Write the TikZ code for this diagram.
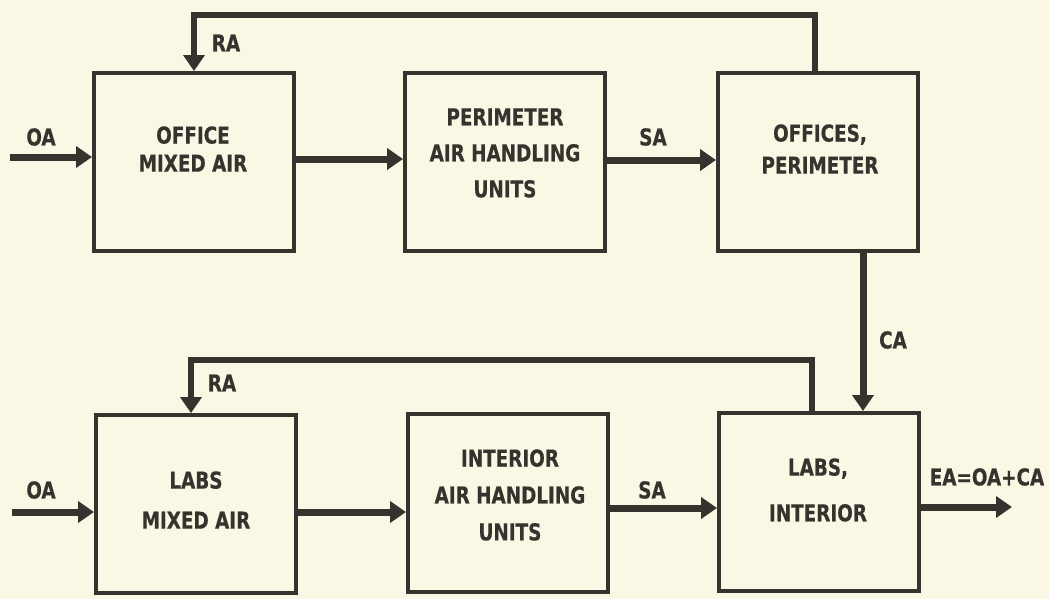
\documentclass[tikz,border=0pt]{standalone}
\usepackage{fontspec}
\usetikzlibrary{arrows.meta,calc}
\newfontfamily\diafont{DejaVu Sans Condensed}[FakeStretch=0.88,BoldFeatures={FakeBold=0.5}]
\definecolor{paper}{RGB}{250,248,228}
\definecolor{ink}{RGB}{56,50,46}

\begin{document}
\begin{tikzpicture}[
  x=0.02cm, y=-0.02cm,
  >={Triangle[length=0.32cm,width=0.42cm]},
  line join=miter,
  box/.style={draw=ink, line width=0.08cm, minimum width=4cm, minimum height=3.56cm, inner sep=0pt},
  txt/.style={text=ink, font=\diafont\bfseries\fontsize{13.2}{16}\selectfont, align=center, inner sep=0pt},
  flow/.style={draw=ink, line width=0.14cm, ->},
  ret/.style={draw=ink, line width=0.11cm, ->}
]
  \useasboundingbox (0,0) rectangle (1049,599);
  \fill[paper] (0,0) rectangle (1049,599);

  % Blocks, office side on top, labs side below
  \node[box] (omix)   at (194,162) {};
  \node[box] (pahu)   at (505,162) {};
  \node[box] (operim) at (818,162) {};
  \node[box] (lmix)   at (196,504) {};
  \node[box] (iahu)   at (508,503) {};
  \node[box] (lint)   at (819,502) {};

  % Block texts
  \node[txt] (omixtxt)   at (193,149) {OFFICE\\MIXED AIR};
  \node[txt] (pahutxt)   at (505,153) {PERIMETER\\[4.5pt]AIR HANDLING\\[4.5pt]UNITS};
  \node[txt] (operimtxt) at (820,149) {OFFICES,\\[2.3pt]PERIMETER};
  \node[txt] (lmixtxt)   at (196,500) {LABS\\[6.8pt]MIXED AIR};
  \node[txt] (iahutxt)   at (510,495) {INTERIOR\\[5pt]AIR HANDLING\\[5pt]UNITS};
  \node[txt] (linttxt)   at (818,490) {LABS,\\[10pt]INTERIOR};

  % Free ends and bends
  \coordinate (oain1) at (10,157);
  \coordinate (oain2) at (12,512);
  \coordinate (sa2)   at (0,508);
  \coordinate (eaout) at (1012,507);
  \coordinate (ret1)  at (815,15);
  \coordinate (ret2)  at (812,360);
  \coordinate (cax)   at (863,0);

  % Office air path
  \draw[flow] (oain1) -- (oain1 -| omix.west);
  \draw[flow] ([yshift=0.06cm]omix.east) -- ([yshift=0.06cm]omix.east -| pahu.west);
  \draw[flow] ([yshift=0.04cm]pahu.east) -- ([yshift=0.04cm]pahu.east -| operim.west);
  \draw[ret] (ret1 |- operim.north) -- (ret1) -| (omix.north);

  % Corridor air to the labs
  \draw[flow] (cax |- operim.south) -- (cax |- lint.north);

  % Labs air path
  \draw[flow] (oain2) -- (oain2 -| lmix.west);
  \draw[flow] (lmix.east |- oain2) -- (iahu.west |- oain2);
  \draw[flow] (iahu.east |- sa2) -- (lint.west |- sa2);
  \draw[flow] (lint.east |- eaout) -- (eaout);
  \draw[ret] (ret2 |- lint.north) -- (ret2) -| ([xshift=-0.1cm]lmix.north);

  % Stream labels
  \node[txt] (oalbl1) at (41,137)  {OA};
  \node[txt] (ralbl1) at (226,43)  {RA};
  \node[txt] (salbl1) at (653,137) {SA};
  \node[txt] (calbl)  at (893,340) {CA};
  \node[txt] (ralbl2) at (222,383) {RA};
  \node[txt] (oalbl2) at (41,490)  {OA};
  \node[txt] (salbl2) at (652,490) {SA};
  \node[txt] (ealbl)  at (987,477) {EA=OA+CA};
\end{tikzpicture}
\end{document}
